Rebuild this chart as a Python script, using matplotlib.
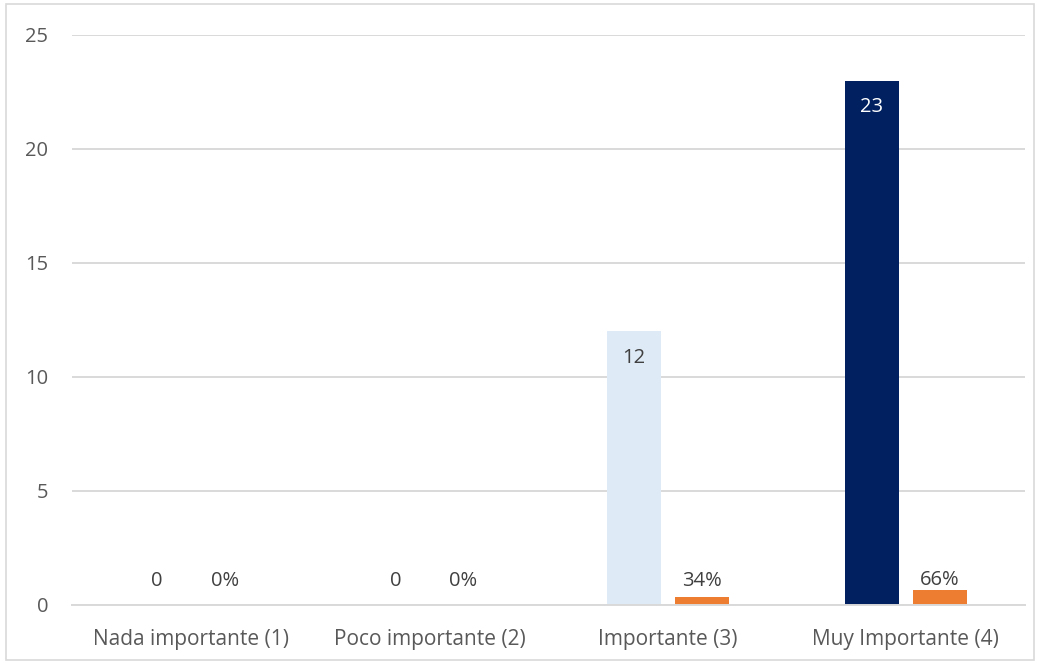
import matplotlib.pyplot as plt
import numpy as np
from matplotlib.patches import Rectangle

categorias = ["Nada importante (1)", "Poco importante (2)", "Importante (3)", "Muy Importante (4)"]
frecuencia = [0, 0, 12, 23]
porcentaje = [0.0, 0.0, 0.34, 0.66]
etiquetas_pct = ["0%", "0%", "34%", "66%"]
colores_frec = ["#DEEAF6", "#DEEAF6", "#DEEAF6", "#002060"]

plt.rcParams['font.family'] = ['Open Sans', 'DejaVu Sans']
gris = "#595959"
fs = 14.5

fig = plt.figure(figsize=(10.39, 6.64), dpi=100)
ax = fig.add_axes([72/1039, 59/664, 953/1039, 570/664])

x = np.arange(len(categorias))
ancho = 0.227
desp = 0.143

ax.bar(x - desp, frecuencia, ancho, color=colores_frec)
ax.bar(x + desp, porcentaje, ancho, color="#ED7D31")

for i, v in enumerate(frecuencia):
    if v > 0:
        col = "white" if colores_frec[i] == "#002060" else "#404040"
        ax.text(x[i] - desp, v - 1.15, str(v), ha="center", va="center", fontsize=fs, color=col)
    else:
        ax.text(x[i] - desp, 1.05, str(v), ha="center", va="center", fontsize=fs, color="#404040")
for i, v in enumerate(porcentaje):
    ax.text(x[i] + desp, max(v + 0.45, 1.05), etiquetas_pct[i], ha="center", va="center",
            fontsize=fs, color="#404040")

ax.set_xlim(-0.5, 3.5)
ax.set_ylim(0, 25)
ax.set_yticks(range(0, 26, 5))
ax.set_xticks(x)
ax.set_xticklabels(categorias, fontsize=15)
ax.grid(axis="y", color="#D9D9D9", linewidth=1.4)
ax.set_axisbelow(True)
for s in ["top", "right", "left"]:
    ax.spines[s].set_visible(False)
ax.spines["bottom"].set_color("#D9D9D9")
ax.spines["bottom"].set_linewidth(1.4)
ax.tick_params(axis="both", length=0, colors=gris)
ax.tick_params(axis="y", pad=17, labelsize=fs)
ax.tick_params(axis="x", pad=17)

fig.patches.append(Rectangle((6/1039, 4/664), 1028/1039, 656/664, transform=fig.transFigure,
                             fill=False, edgecolor="#D9D9D9", linewidth=1.2))

fig.savefig("out.png", dpi=100)
